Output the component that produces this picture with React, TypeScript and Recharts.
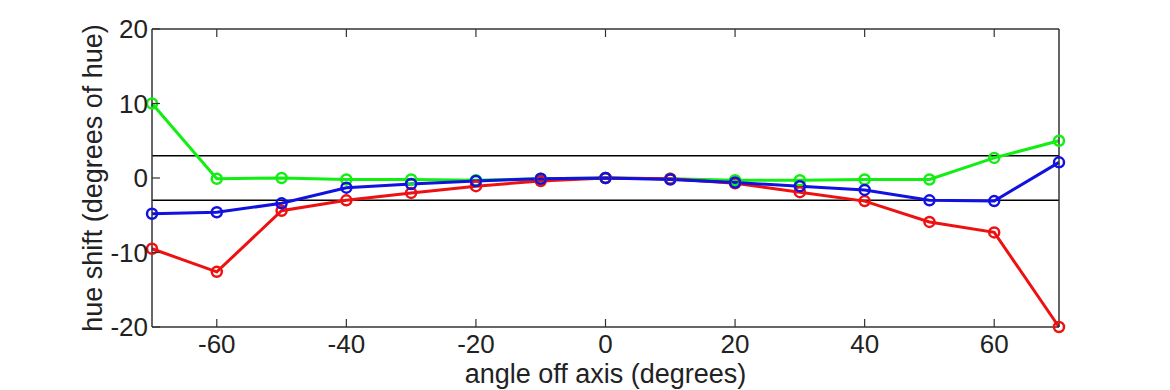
import { LineChart, Line, XAxis, YAxis, ReferenceLine, Label } from "recharts";

const angles = [-70, -60, -50, -40, -30, -20, -10, 0, 10, 20, 30, 40, 50, 60, 70];
const greenShift = [10, -0.1, 0, -0.2, -0.2, -0.3, -0.1, 0, -0.1, -0.3, -0.3, -0.2, -0.2, 2.7, 5.0];
const redShift = [-9.5, -12.6, -4.4, -3.0, -2.0, -1.1, -0.4, 0, -0.1, -0.7, -1.9, -3.1, -5.9, -7.3, -20];
const blueShift = [-4.8, -4.6, -3.4, -1.3, -0.8, -0.4, -0.1, 0, -0.2, -0.6, -1.1, -1.6, -3.0, -3.1, 2.1];
const xTicks = [-60, -40, -20, 0, 20, 40, 60];
const yTicks = [-20, -10, 0, 10, 20];
const limits = [-3, 3];

const data = angles.map((a, i) => ({
  angle: a,
  green: greenShift[i],
  red: redShift[i],
  blue: blueShift[i],
}));

const FONT = "'Liberation Sans', Arial, sans-serif";
const AXIS = "#333333";
const TICK_LEN = 8;

const BottomTick = ({ x, y, payload }: any) => (
  <g>
    <line x1={x} x2={x} y1={y} y2={y - TICK_LEN} stroke={AXIS} strokeWidth={1.2} />
    <text x={x} y={y + 26} textAnchor="middle" fontSize={26} fontFamily={FONT} fill="#222">
      {payload.value}
    </text>
  </g>
);

const TopTick = ({ x, y }: any) => (
  <line x1={x} x2={x} y1={y} y2={y + TICK_LEN} stroke={AXIS} strokeWidth={1.2} />
);

const LeftTick = ({ x, y, payload }: any) => (
  <g>
    <line x1={x} x2={x + TICK_LEN} y1={y} y2={y} stroke={AXIS} strokeWidth={1.2} />
    <text x={x - 4} y={y + 9} textAnchor="end" fontSize={26} fontFamily={FONT} fill="#222">
      {payload.value}
    </text>
  </g>
);

const RightTick = ({ x, y }: any) => (
  <line x1={x} x2={x - TICK_LEN} y1={y} y2={y} stroke={AXIS} strokeWidth={1.2} />
);

const XTitle = ({ viewBox }: any) => (
  <text
    x={viewBox.x + viewBox.width / 2}
    y={viewBox.y + 56}
    textAnchor="middle"
    fontSize={27}
    fontFamily={FONT}
    fill="#222"
  >
    angle off axis (degrees)
  </text>
);

const YTitle = ({ viewBox }: any) => {
  const cx = viewBox.x + viewBox.width - 50;
  const cy = viewBox.y + viewBox.height / 2;
  return (
    <text
      x={cx}
      y={cy}
      transform={`rotate(-90, ${cx}, ${cy})`}
      textAnchor="middle"
      fontSize={27}
      fontFamily={FONT}
      fill="#222"
    >
      hue shift (degrees of hue)
    </text>
  );
};

const series = [
  { key: "green", color: "#11ee11" },
  { key: "red", color: "#ee1111" },
  { key: "blue", color: "#1111e0" },
];

export default function App() {
  return (
    <div style={{ position: "absolute", left: 0, top: 0, width: 1170, height: 390, background: "#fff" }}>
      <LineChart
        width={1170}
        height={390}
        data={data}
        margin={{ top: 28, right: 110, bottom: 62, left: 151 }}
      >
        <XAxis
          dataKey="angle"
          type="number"
          domain={[-70, 70]}
          ticks={xTicks}
          height={1}
          tickSize={0}
          tickMargin={0}
          tickLine={false}
          tick={<BottomTick />}
          stroke={AXIS}
          strokeWidth={1.5}
          interval={0}
        >
          <Label content={<XTitle />} />
        </XAxis>
        <XAxis
          xAxisId="top"
          orientation="top"
          dataKey="angle"
          type="number"
          domain={[-70, 70]}
          ticks={xTicks}
          height={1}
          tickSize={0}
          tickMargin={0}
          tickLine={false}
          tick={<TopTick />}
          stroke={AXIS}
          strokeWidth={1.5}
          interval={0}
        />
        <YAxis
          type="number"
          domain={[-20, 20]}
          ticks={yTicks}
          width={1}
          tickSize={0}
          tickMargin={0}
          tickLine={false}
          tick={<LeftTick />}
          stroke={AXIS}
          strokeWidth={1.5}
          interval={0}
        >
          <Label content={<YTitle />} />
        </YAxis>
        <YAxis
          yAxisId="right"
          orientation="right"
          type="number"
          domain={[-20, 20]}
          ticks={yTicks}
          width={1}
          tickSize={0}
          tickMargin={0}
          tickLine={false}
          tick={<RightTick />}
          stroke={AXIS}
          strokeWidth={1.5}
          interval={0}
        />
        {limits.map((v) => (
          <ReferenceLine key={v} y={v} stroke="#000" strokeWidth={1.5} />
        ))}
        {series.map((s) => (
          <Line
            key={s.key}
            dataKey={s.key}
            stroke={s.color}
            strokeWidth={3}
            dot={{ r: 5, fill: "none", stroke: s.color, strokeWidth: 2.5, clipDot: false }}
            isAnimationActive={false}
          />
        ))}
      </LineChart>
    </div>
  );
}
